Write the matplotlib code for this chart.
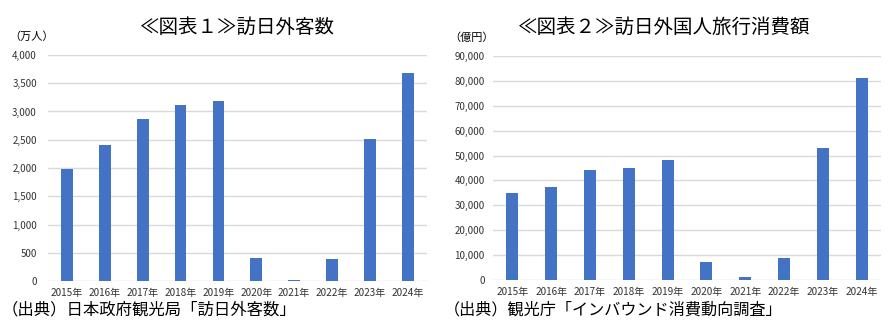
import numpy as np
import matplotlib.pyplot as plt
from matplotlib.ticker import FuncFormatter

plt.rcParams['font.family'] = ['Noto Sans CJK JP', 'DejaVu Sans']

years = ['2015年', '2016年', '2017年', '2018年', '2019年',
         '2020年', '2021年', '2022年', '2023年', '2024年']
# 訪日外客数（万人）
visitors = [1974, 2404, 2869, 3119, 3188, 412, 25, 383, 2507, 3687]
# 訪日外国人旅行消費額（億円）
spending = [34771, 37476, 44162, 45189, 48135, 7446, 1208, 8987, 52923, 81257]

bar_color = '#4472C4'
grid_color = '#D9D9D9'

fig = plt.figure(figsize=(8.89, 3.33), dpi=100)
ax1 = fig.add_axes([0.054, 0.156, 0.426, 0.679])
ax2 = fig.add_axes([0.5546, 0.159, 0.4364, 0.673])

fmt = FuncFormatter(lambda v, p: f'{int(v):,}')


def draw(ax, values, ymax, step, pad):
    x = np.arange(len(years))
    ax.set_axisbelow(True)
    ax.yaxis.grid(True, color=grid_color, linewidth=1)
    ax.bar(x, values, width=0.31, color=bar_color)
    ax.set_xlim(-0.5, len(years) - 0.5)
    ax.set_ylim(0, ymax)
    ax.set_yticks(np.arange(0, ymax + 1, step))
    ax.yaxis.set_major_formatter(fmt)
    ax.set_xticks(x)
    ax.set_xticklabels(years)
    for s in ax.spines.values():
        s.set_visible(False)
    ax.tick_params(axis='y', length=0, labelsize=7, pad=pad, colors='#333333')
    ax.tick_params(axis='x', length=0, labelsize=7.2, pad=5, colors='#333333')


draw(ax1, visitors, 4000, 500, 8)
draw(ax2, spending, 90000, 10000, 6)

# タイトル・単位・出典
fig.text(0.267, 0.917, '≪図表１≫訪日外客数', fontsize=14, ha='center', va='center')
fig.text(0.011, 0.89, '（万人）', fontsize=8, ha='left', va='center')
fig.text(0.002, 0.068, '（出典）日本政府観光局「訪日外客数」', fontsize=11.8, ha='left', va='center')

fig.text(0.747, 0.917, '≪図表２≫訪日外国人旅行消費額', fontsize=14, ha='center', va='center')
fig.text(0.505, 0.888, '（億円）', fontsize=8, ha='left', va='center')
fig.text(0.499, 0.068, '（出典）観光庁「インバウンド消費動向調査」', fontsize=11.6, ha='left', va='center')

fig.savefig('out.png', dpi=100)
